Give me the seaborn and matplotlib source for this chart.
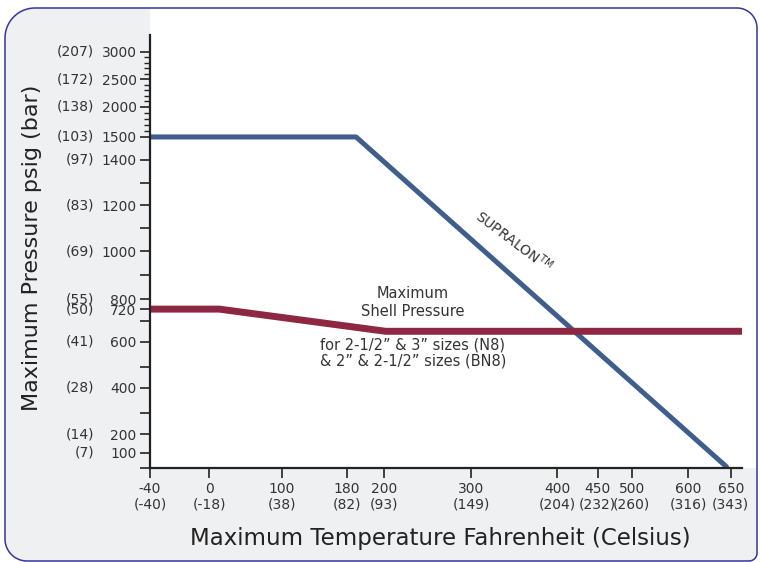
import numpy as np
import pandas as pd
import matplotlib
matplotlib.use("Agg")
import matplotlib.pyplot as plt
import matplotlib.transforms as mtransforms
from matplotlib.patches import Polygon, Rectangle
import seaborn as sns

# dados
supralon_f = [-40, 185, 645]
supralon_psig = [1500, 1500, 10]
shell_f = [-40, 14, 202, 663]
shell_psig = [720, 720, 650, 650]

x_ticks = [-40, 0, 100, 180, 200, 300, 400, 450, 500, 600, 650]
x_celsius = ["(-40)", "(-18)", "(38)", "(82)", "(93)", "(149)", "(204)", "(232)", "(260)", "(316)", "(343)"]
y_ticks = [100, 200, 400, 600, 720, 800, 1000, 1200, 1400, 1500, 2000, 2500, 3000]
y_bar = ["(7)", "(14)", "(28)", "(41)", "(50)", "(55)", "(69)", "(83)", "(97)", "(103)", "(138)", "(172)", "(207)"]

# escalas desenhadas a mao no original: interpolacao por partes
y_anchor = [-1000, 0, 100, 200, 300, 400, 500, 600, 700, 720, 800, 900, 1000, 1100,
            1200, 1300, 1400, 1500, 2000, 2500, 3000, 3300, 10000]
y_pos = [-220, 0, 15.6, 34.0, 55.0, 80.6, 101.0, 126.6, 147.6, 159.3, 169.0, 193.3, 217.3,
         240.0, 263.3, 285.6, 309.0, 331.6, 361.6, 389.3, 416.6, 433.6, 813.0]
x_anchor = [-1000, -40, 0, 100, 180, 200, 300, 400, 450, 500, 600, 650, 663, 2000]
x_pos = [-1400, 0, 59, 131.7, 196.7, 234, 321, 407, 447.7, 481.7, 538.3, 580.7, 591.7, 1720]


def yf(v):
    return np.interp(v, y_anchor, y_pos)


def yi(v):
    return np.interp(v, y_pos, y_anchor)


def xf(v):
    return np.interp(v, x_anchor, x_pos)


def xi(v):
    return np.interp(v, x_pos, x_anchor)


sns.set_style("ticks")
plt.rcParams['font.family'] = ['DejaVu Sans']

W, H = 760, 562
fig = plt.figure(figsize=(W / 100, H / 100), dpi=100, facecolor="white")
ax = fig.add_axes([150 / W, (H - 468.3) / H, 591.7 / W, (468.3 - 35) / H])
ax.set_facecolor("none")

# fundo cinza com borda arredondada
def corner(cx, cy, r, a0, a1):
    t = np.radians(np.linspace(a0, a1, 20))
    return np.column_stack([cx + r * np.cos(t), cy - r * np.sin(t)])

pts = np.vstack([
    corner(5 + 30, 8 + 30, 30, 180, 90),
    corner(757 - 20, 8 + 20, 20, 90, 0),
    corner(757 - 8, 561 - 8, 8, 0, -90),
    corner(5 + 22, 561 - 22, 22, -90, -180),
])
pts_fig = np.column_stack([pts[:, 0] / W, 1 - pts[:, 1] / H])
fig.add_artist(Polygon(pts_fig, closed=True, facecolor="#eff0f2", edgecolor="none",
                       transform=fig.transFigure, zorder=-3))
fig.add_artist(Rectangle((150 / W, (H - 468.3) / H), (757 - 150) / W, (468.3 - 8) / H,
                         facecolor="white", edgecolor="none", transform=fig.transFigure, zorder=-2))
fig.add_artist(Polygon(pts_fig, closed=True, facecolor="none", edgecolor="#35359a", lw=1.1,
                       transform=fig.transFigure, zorder=-1))

ax.set_xscale("function", functions=(xf, xi))
ax.set_yscale("function", functions=(yf, yi))

sns.lineplot(x=supralon_f, y=supralon_psig, ax=ax, color="#3f5e8c", lw=3.6, sort=False)
sns.lineplot(x=shell_f, y=shell_psig, ax=ax, color="#8e2741", lw=5, sort=False)

ax.set_xlim(-40, 663)
ax.set_ylim(0, 3300)

for s in ["top", "right"]:
    ax.spines[s].set_visible(False)
for s in ["left", "bottom"]:
    ax.spines[s].set_linewidth(1.6)
    ax.spines[s].set_color("#222222")

ax.set_xticks(x_ticks)
ax.set_xticklabels([f"{f}\n{c}" for f, c in zip(x_ticks, x_celsius)], linespacing=1.15)

y_major = sorted(set(list(range(0, 1600, 100)) + y_ticks))
ax.set_yticks(y_major)
ax.set_yticklabels([str(v) if v in y_ticks else "" for v in y_major])
ax.set_yticks([v for v in range(1600, 3000, 100) if v not in (2000, 2500)], minor=True)

ax.tick_params(axis="both", which="major", length=7.2, width=1.2, color="#222222",
               labelsize=10, labelcolor="#333333", pad=2.5)
ax.tick_params(axis="y", which="minor", length=4.5, width=1.0, color="#222222")

trans = mtransforms.blended_transform_factory(ax.transAxes, ax.transData)
for v, b in zip(y_ticks, y_bar):
    ax.text(-0.0946, v, b, transform=trans, ha="right", va="center", fontsize=10, color="#333333")

ax.set_xlabel("Maximum Temperature Fahrenheit (Celsius)", fontsize=16.5, color="#222222")
ax.xaxis.set_label_coords(0.49, -0.135)
ax.set_ylabel("Maximum Pressure psig (bar)", fontsize=16, color="#222222")
ax.yaxis.set_label_coords(-0.1825, 0.51)

ax.text(233, 775, "Maximum\nShell Pressure", ha="center", va="center", fontsize=10.5,
        color="#333333", linespacing=1.25)
ax.text(233, 556, "for 2-1/2\u201d & 3\u201d sizes (N8)\n& 2\u201d & 2-1/2\u201d sizes (BN8)",
        ha="center", va="center", fontsize=10.5, color="#333333", linespacing=1.1)
ax.text(350, 1043, "SUPRALON$^{\\mathrm{TM}}$", ha="center", va="center", fontsize=10,
        color="#333333", rotation=-37, rotation_mode="anchor")

fig.savefig("out.png", dpi=100)
